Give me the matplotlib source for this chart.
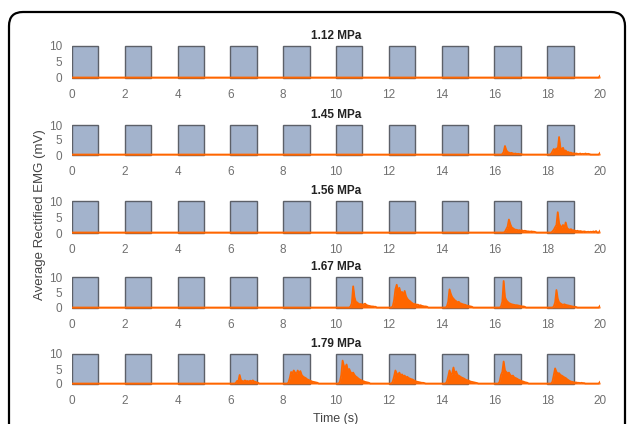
# importing libraries
import numpy as np
import matplotlib
matplotlib.use("Agg")
import matplotlib.pyplot as plt
from matplotlib.patches import FancyBboxPatch

plt.rcParams['font.family'] = ['Liberation Sans', 'DejaVu Sans']


# chart data
pressures = ["1.12 MPa", "1.45 MPa", "1.56 MPa", "1.67 MPa", "1.79 MPa"]
pulse_starts = [0, 2, 4, 6, 8, 10, 12, 14, 16, 18]
pulse_height = 10
pulse_width = 1
xticks = [0, 2, 4, 6, 8, 10, 12, 14, 16, 18, 20]
yticks = [0, 5, 10]

sample_step = 0.05      # s between EMG samples
baseline_level = 0.15   # mV resting level
end_level = 0.7         # little uptick at t = 20 s

# EMG bursts: (start time, amplitudes every 0.05 s)
bursts_112 = []
bursts_145 = [
    (16.30, [0.3, 1.0, 3.0, 1.6, 1.0, 0.8, 0.6, 0.7, 0.5, 0.4, 0.5, 0.3, 0.4, 0.3, 0.3, 0.2]),
    (18.15, [0.4, 1.2, 2.0, 1.5, 2.2, 1.8, 6.0, 2.5, 1.8, 2.4, 1.2, 1.5, 0.9, 1.0, 0.7, 0.8,
             0.5, 0.6, 0.4, 0.5, 0.4, 0.3, 0.5, 0.3, 0.4, 0.3, 0.5, 0.3, 0.4, 0.3]),
]
bursts_156 = [
    (16.40, [0.4, 1.2, 2.0, 4.2, 2.8, 1.8, 1.5, 1.2, 1.0, 1.0, 0.8, 0.9, 0.7, 0.8, 0.6, 0.7,
             0.6, 0.5, 0.5, 0.4, 0.5, 0.4, 0.4, 0.3]),
    (18.20, [0.5, 1.0, 1.8, 2.5, 6.5, 3.0, 2.2, 1.8, 2.5, 1.5, 3.3, 1.6, 1.2, 1.0, 1.2, 0.8,
             0.9, 0.7, 0.6, 0.7, 0.5, 0.6, 0.5, 0.4, 0.5, 0.4, 0.3, 0.4, 0.3, 0.4, 0.3, 0.5,
             0.3, 0.6]),
]
bursts_167 = [
    (10.55, [0.5, 1.5, 7.0, 3.5, 2.0, 1.8, 1.4, 1.2, 1.3, 1.0, 1.2, 1.4, 1.0, 0.8, 0.7, 0.6,
             0.5, 0.5, 0.4, 0.4]),
    (12.15, [0.6, 2.5, 6.0, 7.5, 5.5, 6.5, 4.8, 5.2, 4.0, 5.5, 3.8, 3.0, 2.5, 2.2, 1.8, 1.5,
             1.2, 1.3, 1.0, 1.1, 0.8, 0.9, 0.7, 0.6, 0.5, 0.5, 0.4]),
    (14.20, [0.5, 2.0, 6.0, 4.5, 3.5, 3.0, 2.5, 2.2, 1.8, 2.0, 1.5, 1.4, 1.2, 1.1, 1.0, 0.8,
             0.7, 0.6, 0.5, 0.4]),
    (16.25, [0.5, 2.0, 8.7, 3.5, 2.5, 2.0, 1.6, 1.4, 1.2, 1.1, 1.0, 0.9, 0.9, 0.8, 0.7, 0.6,
             0.5, 0.5, 0.4]),
    (18.25, [0.5, 1.8, 5.8, 3.0, 1.8, 1.5, 1.2, 1.0, 1.2, 1.0, 0.9, 0.8, 0.7, 0.6, 0.5, 0.4,
             0.4, 0.3]),
]
bursts_179 = [
    (6.20, [0.3, 1.0, 0.8, 3.0, 1.2, 1.0, 0.8, 1.2, 0.9, 1.0, 0.8, 1.1, 0.9, 1.2, 0.8, 0.7,
            0.5, 0.4]),
    (8.20, [0.5, 2.0, 4.0, 3.5, 4.5, 3.8, 3.2, 4.5, 3.5, 4.3, 3.0, 2.5, 2.2, 2.0, 1.6, 1.4,
            1.2, 1.0, 0.8, 0.7, 0.6, 0.5, 0.4]),
    (10.15, [0.8, 3.0, 7.8, 6.0, 5.5, 6.5, 4.5, 5.0, 4.0, 3.5, 3.8, 3.0, 2.5, 2.2, 1.8, 1.5,
             1.3, 1.0, 0.9, 0.7, 0.6, 0.5, 0.4]),
    (12.15, [0.8, 2.5, 4.5, 3.5, 3.0, 3.8, 2.8, 3.2, 2.6, 2.8, 2.2, 2.4, 2.0, 1.8, 1.6, 1.5,
             1.2, 1.0, 0.8, 0.7, 0.6, 0.5, 0.4, 0.4, 0.3]),
    (14.20, [0.8, 2.5, 4.5, 3.0, 3.5, 5.5, 3.2, 4.2, 3.0, 2.8, 2.5, 2.2, 2.0, 1.8, 1.5, 1.3,
             1.2, 1.0, 0.8, 0.7, 0.6, 0.5, 0.4, 0.3]),
    (16.20, [0.8, 3.0, 4.0, 7.5, 4.5, 4.0, 3.5, 3.8, 3.0, 2.6, 2.8, 2.2, 2.0, 1.8, 1.5, 1.3,
             1.1, 0.9, 0.8, 0.6, 0.5, 0.4]),
    (18.20, [0.8, 3.0, 5.2, 4.0, 3.5, 3.6, 3.0, 2.8, 2.5, 2.2, 2.0, 1.6, 1.3, 1.0, 0.8, 0.7,
             0.6, 0.5, 0.5, 0.4, 0.4, 0.3, 0.4, 0.3, 0.3]),
]
all_bursts = [bursts_112, bursts_145, bursts_156, bursts_167, bursts_179]


# building the traces on a common time grid
t = np.arange(0, 20 + sample_step / 2, sample_step)

def build_trace(bursts):
    emg = np.full(len(t), baseline_level)
    for start, amps in bursts:
        i0 = int(round(start / sample_step))
        emg[i0:i0 + len(amps)] = amps
    emg[-1] = end_level
    return emg


# figure layout in pixels (627 x 424)
W, H = 627, 424
fig = plt.figure(figsize=(W / 100, H / 100), dpi=100)

x0_px, x20_px = 72, 600
panel_px = [(46, 78), (125, 155), (201, 233), (277, 308), (354, 384)]  # (y at 10, y at 0)
ymin, ymax = -0.5, 10.5

pulse_color = '#a3b3cc'
pulse_edge = '#5c6068'
emg_color = '#ff6600'
text_gray = '#707070'

axes = []
for k, (y10, y0) in enumerate(panel_px):
    per_unit = (y0 - y10) / 10.0
    top = y10 - (ymax - 10) * per_unit
    bottom = y0 - ymin * per_unit
    ax = fig.add_axes([x0_px / W, 1 - bottom / H, (x20_px - x0_px) / W, (bottom - top) / H])
    axes.append(ax)

    ax.bar(pulse_starts, pulse_height, width=pulse_width, align='edge',
           color=pulse_color, edgecolor=pulse_edge, linewidth=1.0, zorder=1)
    emg = build_trace(all_bursts[k])
    ax.fill_between(t, 0, emg, color=emg_color, linewidth=0, zorder=2)
    ax.plot(t, emg, color=emg_color, linewidth=1.3, zorder=3)

    ax.set_xlim(0, 20)
    ax.set_ylim(ymin, ymax)
    ax.set_xticks(xticks)
    ax.set_yticks(yticks)
    for s in ax.spines.values():
        s.set_visible(False)
    ax.tick_params(length=0, labelsize=8.5, colors=text_gray)
    ax.tick_params(axis='x', pad=7)
    ax.tick_params(axis='y', pad=7)
    ax.set_title(pressures[k], fontsize=8.5, fontweight='bold', color='#222222', pad=4)

axes[-1].set_xlabel("Time (s)", fontsize=9, color='#444444', labelpad=4)
fig.text(40 / W, 1 - 215 / H, "Average Rectified EMG (mV)", rotation=90,
         ha='center', va='center', fontsize=9.5, color='#444444')


# rounded frame around the whole panel (display pixels)
frame = FancyBboxPatch((9, -30), 616, 442, boxstyle="round,pad=0,rounding_size=14",
                       transform=None, fill=False, edgecolor='black', linewidth=1.6)
fig.patches.append(frame)

plt.savefig('out.png', dpi=100)
